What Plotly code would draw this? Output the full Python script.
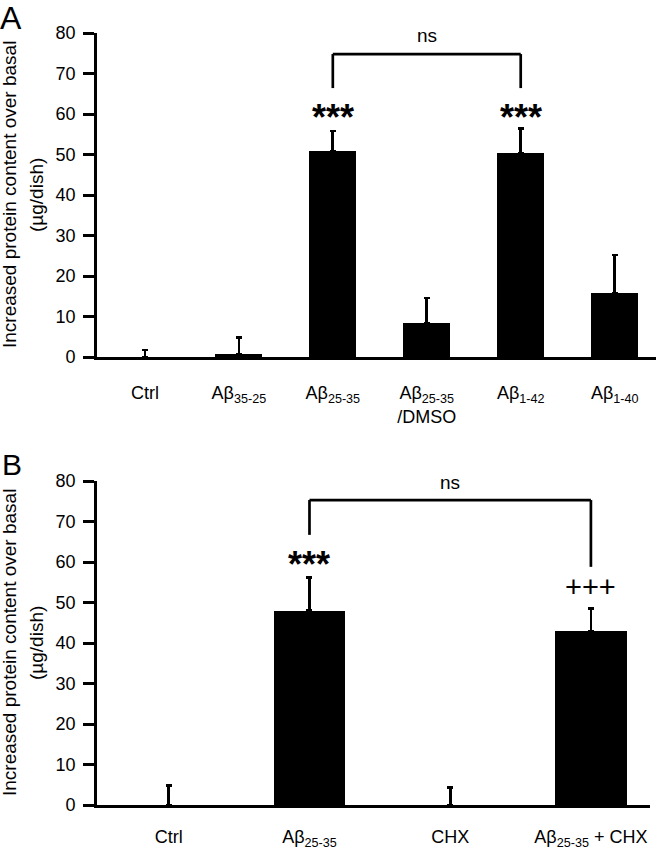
import plotly.graph_objects as go

# ---------------- data ----------------
cats_a = ["Ctrl", "Aβ<sub>35-25</sub>", "Aβ<sub>25-35</sub>", "Aβ<sub>25-35</sub><br>/DMSO", "Aβ<sub>1-42</sub>", "Aβ<sub>1-40</sub>"]
vals_a = [0.0, 0.7, 50.9, 8.4, 50.4, 15.8]
err_a = [1.7, 4.2, 4.9, 6.2, 6.1, 9.4]

cats_b = ["Ctrl", "Aβ<sub>25-35</sub>", "CHX", "Aβ<sub>25-35</sub> + CHX"]
vals_b = [0.0, 48.0, 0.0, 43.0]
err_b = [4.9, 8.1, 4.3, 5.6]

y_ticks = [0, 10, 20, 30, 40, 50, 60, 70, 80]

# significance marks: (category index, label, y value)
marks_a = [(2, "***", 59.1), (4, "***", 59.1)]
marks_b = [(1, "***", 59.5), (3, "+++", 53.8)]
# brackets: (left idx, right idx, top y, left leg bottom, right leg bottom, label y)
bracket_a = (2, 4, 74.8, 66.4, 66.4, 79.3)
bracket_b = (1, 3, 75.3, 66.7, 58.8, 79.6)

FONT = "Liberation Sans, Arial, sans-serif"
W, H = 656, 852

fig = go.Figure()

fig.add_trace(go.Bar(
    x=list(range(len(cats_a))), y=vals_a, width=0.5,
    marker=dict(color="black", line=dict(width=0)),
    error_y=dict(type="data", array=err_a, arrayminus=[0] * len(err_a), symmetric=False,
                 color="black", thickness=2.7, width=3),
    xaxis="x", yaxis="y", showlegend=False))

fig.add_trace(go.Bar(
    x=list(range(len(cats_b))), y=vals_b, width=0.51,
    marker=dict(color="black", line=dict(width=0)),
    error_y=dict(type="data", array=err_b, arrayminus=[0] * len(err_b), symmetric=False,
                 color="black", thickness=2.7, width=3),
    xaxis="x2", yaxis="y2", showlegend=False))

axis_common = dict(showline=True, linecolor="black", linewidth=2.7, showgrid=False,
                   zeroline=False, automargin=False,
                   tickfont=dict(family=FONT, size=18, color="black"))

fig.update_layout(
    width=W, height=H, margin=dict(l=0, r=0, t=0, b=0, pad=0, autoexpand=False),
    paper_bgcolor="white", plot_bgcolor="white",
    font=dict(family=FONT, color="black"),
    bargap=0,
    xaxis=dict(domain=[97 / W, 1.0], range=[-0.51, 5.44], anchor="y",
               tickvals=list(range(len(cats_a))), ticktext=cats_a, ticks="",
               ticklabelstandoff=18, **axis_common),
    yaxis=dict(domain=[1 - 357 / H, 1 - 33 / H], range=[0, 80], anchor="x",
               tickvals=y_ticks, ticks="outside", ticklen=11, tickwidth=2.7, tickcolor="black",
               ticklabelstandoff=4, **axis_common),
    xaxis2=dict(domain=[97 / W, 650 / W], range=[-0.51, 3.42], anchor="y2",
                tickvals=list(range(len(cats_b))), ticktext=cats_b, ticks="",
                ticklabelstandoff=14, **axis_common),
    yaxis2=dict(domain=[1 - 805 / H, 1 - 481 / H], range=[0, 80], anchor="x2",
                tickvals=y_ticks, ticks="outside", ticklen=11, tickwidth=2.7, tickcolor="black",
                ticklabelstandoff=4, **axis_common),
)

annotations = []
shapes = []

def add_panel(marks, bracket, xr, yr):
    for idx, txt, yv in marks:
        if txt == "***":
            fnt = dict(family=FONT, size=36, color="black", weight="bold")
        else:
            fnt = dict(family=FONT, size=29, color="black")
        annotations.append(dict(x=idx, y=yv, xref=xr, yref=yr, text=txt, showarrow=False,
                                font=fnt, xanchor="center", yanchor="middle"))
    l, r, top, lb, rb, ly = bracket
    line = dict(color="black", width=2.7)
    shapes.append(dict(type="line", xref=xr, yref=yr, x0=l, x1=r, y0=top, y1=top, line=line))
    shapes.append(dict(type="line", xref=xr, yref=yr, x0=l, x1=l, y0=top, y1=lb, line=line))
    shapes.append(dict(type="line", xref=xr, yref=yr, x0=r, x1=r, y0=top, y1=rb, line=line))
    annotations.append(dict(x=(l + r) / 2, y=ly, xref=xr, yref=yr, text="ns", showarrow=False,
                            font=dict(family=FONT, size=19, color="black"),
                            xanchor="center", yanchor="middle"))

add_panel(marks_a, bracket_a, "x", "y")
add_panel(marks_b, bracket_b, "x2", "y2")

# y-axis titles (two lines each)
for (top_px, bot_px) in [(33, 357), (481, 805)]:
    yc = 1 - (top_px + bot_px) / 2 / H
    annotations.append(dict(x=9 / W, y=yc, xref="paper", yref="paper", textangle=-90,
                            text="Increased protein content over basal", showarrow=False,
                            font=dict(family=FONT, size=19, color="black"),
                            xanchor="center", yanchor="middle"))
    annotations.append(dict(x=36 / W, y=yc, xref="paper", yref="paper", textangle=-90,
                            text="(µg/dish)", showarrow=False,
                            font=dict(family=FONT, size=19, color="black"),
                            xanchor="center", yanchor="middle"))

# panel letters
annotations.append(dict(x=0, y=1, xref="paper", yref="paper", text="A", showarrow=False,
                        font=dict(family=FONT, size=32, color="black"),
                        xanchor="left", yanchor="top", yshift=2, xshift=-2))
annotations.append(dict(x=2 / W, y=1 - 452 / H, xref="paper", yref="paper", text="B", showarrow=False,
                        font=dict(family=FONT, size=30, color="black"),
                        xanchor="left", yanchor="top", yshift=6, xshift=-2))

fig.update_layout(annotations=annotations, shapes=shapes)

fig.write_html("out.html", config={"displayModeBar": False},
               post_script="document.body.style.margin='0';document.body.style.overflow='hidden';")
